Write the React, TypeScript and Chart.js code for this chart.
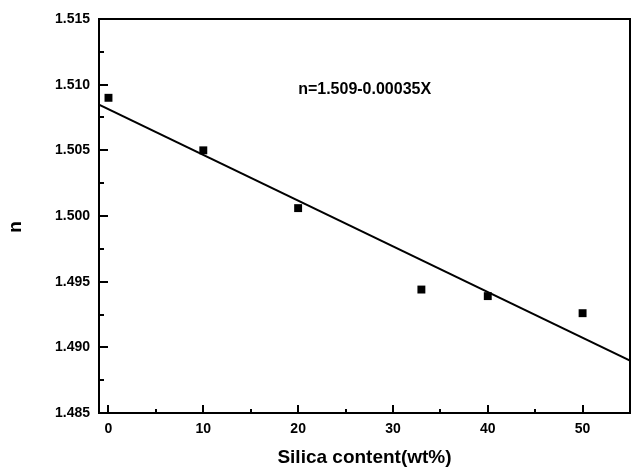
import { useEffect, useRef } from 'react';
import { Chart, registerables } from 'chart.js';

Chart.register(...registerables);

const FONT = '"Liberation Sans", Arial, Helvetica, sans-serif';

// Refractive index n measured against silica loading
const silica = [0, 10, 20, 33, 40, 50];
const refractiveIndex = [1.509, 1.505, 1.5006, 1.4944, 1.4939, 1.4926];

// Axis ranges and tick values
const xMin = -1;
const xMax = 55;
const yMin = 1.485;
const yMax = 1.515;
const xMajorTicks = [0, 10, 20, 30, 40, 50];
const xMinorTicks = [5, 15, 25, 35, 45];
const yMajorTicks = [1.485, 1.49, 1.495, 1.5, 1.505, 1.51, 1.515];
const yMinorTicks = [1.4875, 1.4925, 1.4975, 1.5025, 1.5075, 1.5125];

const xTitle = 'Silica content(wt%)';
const yTitle = 'n';
const fitLabel = 'n=1.509-0.00035X';
const fitLabelAt = { x: 20, y: 1.5096 };

// Ordinary least-squares line through the measured points
function leastSquares(xs: number[], ys: number[]) {
  const n = xs.length;
  const mx = xs.reduce((s, v) => s + v, 0) / n;
  const my = ys.reduce((s, v) => s + v, 0) / n;
  let sxy = 0;
  let sxx = 0;
  for (let i = 0; i < n; i++) {
    sxy += (xs[i] - mx) * (ys[i] - my);
    sxx += (xs[i] - mx) * (xs[i] - mx);
  }
  const slope = sxy / sxx;
  return { slope, intercept: my - slope * mx };
}

const framePlugin = {
  id: 'frameAndTicks',
  afterDraw(chart: any) {
    const { ctx, chartArea: a, scales } = chart;
    const x = scales.x;
    const y = scales.y;
    ctx.save();
    ctx.strokeStyle = '#000';
    ctx.lineWidth = 2;
    ctx.strokeRect(a.left, a.top, a.right - a.left, a.bottom - a.top);

    // inward tick marks on the left and bottom axes
    const tick = (x0: number, y0: number, x1: number, y1: number) => {
      ctx.beginPath();
      ctx.moveTo(x0, y0);
      ctx.lineTo(x1, y1);
      ctx.stroke();
    };
    yMajorTicks.forEach((v) => {
      const py = Math.round(y.getPixelForValue(v));
      tick(a.left, py, a.left + 9, py);
    });
    yMinorTicks.forEach((v) => {
      const py = Math.round(y.getPixelForValue(v));
      tick(a.left, py, a.left + 5, py);
    });
    xMajorTicks.forEach((v) => {
      const px = Math.round(x.getPixelForValue(v));
      tick(px, a.bottom, px, a.bottom - 8);
    });
    xMinorTicks.forEach((v) => {
      const px = Math.round(x.getPixelForValue(v));
      tick(px, a.bottom, px, a.bottom - 4);
    });

    // fit equation
    ctx.fillStyle = '#000';
    ctx.font = `bold 16px ${FONT}`;
    ctx.textAlign = 'left';
    ctx.textBaseline = 'middle';
    ctx.fillText(fitLabel, x.getPixelForValue(fitLabelAt.x), y.getPixelForValue(fitLabelAt.y));

    // y-axis title
    ctx.font = `bold 19px ${FONT}`;
    ctx.textAlign = 'center';
    ctx.translate(16, (a.top + a.bottom) / 2 + 11);
    ctx.rotate(-Math.PI / 2);
    ctx.fillText(yTitle, 0, 0);
    ctx.restore();
  },
};

export default function App() {
  const canvasRef = useRef<HTMLCanvasElement | null>(null);

  useEffect(() => {
    const canvas = canvasRef.current;
    if (!canvas) return;
    const { slope, intercept } = leastSquares(silica, refractiveIndex);
    const fitLine = [xMin, xMax].map((v) => ({ x: v, y: intercept + slope * v }));

    const chart = new Chart(canvas, {
      type: 'scatter',
      data: {
        datasets: [
          {
            label: 'n',
            data: silica.map((v, i) => ({ x: v, y: refractiveIndex[i] })),
            pointStyle: 'rect',
            pointRadius: 5.6,
            pointHoverRadius: 5.6,
            borderWidth: 0,
            backgroundColor: '#000',
            borderColor: '#000',
            showLine: false,
            order: 1,
          },
          {
            label: 'fit',
            data: fitLine,
            showLine: true,
            pointRadius: 0,
            borderColor: '#000',
            borderWidth: 2,
            order: 2,
          },
        ],
      },
      options: {
        responsive: false,
        animation: false,
        layout: { autoPadding: false, padding: { top: 19, right: 1, left: 0, bottom: 0 } },
        plugins: {
          legend: { display: false },
          tooltip: { enabled: false },
        },
        scales: {
          x: {
            type: 'linear',
            min: xMin,
            max: xMax,
            grid: { display: false, drawTicks: false },
            border: { display: false },
            afterBuildTicks: (scale: any) => {
              scale.ticks = xMajorTicks.map((v) => ({ value: v }));
            },
            afterFit: (scale: any) => {
              scale.height = 56;
              scale.paddingLeft = 0;
              scale.paddingRight = 0;
            },
            ticks: {
              color: '#000',
              padding: 8,
              maxRotation: 0,
              font: { family: FONT, size: 14, weight: 'bold' },
            },
            title: {
              display: true,
              text: xTitle,
              color: '#000',
              padding: 0,
              font: { family: FONT, size: 19, weight: 'bold' },
            },
          },
          y: {
            type: 'linear',
            min: yMin,
            max: yMax,
            grid: { display: false, drawTicks: false },
            border: { display: false },
            afterBuildTicks: (scale: any) => {
              scale.ticks = yMajorTicks.map((v) => ({ value: v }));
            },
            afterFit: (scale: any) => {
              scale.width = 99;
              scale.paddingTop = 0;
              scale.paddingBottom = 0;
            },
            ticks: {
              color: '#000',
              padding: 9,
              font: { family: FONT, size: 14, weight: 'bold' },
              callback: (v: any) => Number(v).toFixed(3),
            },
          },
        },
      },
      plugins: [framePlugin],
    });
    return () => chart.destroy();
  }, []);

  return (
    <div style={{ position: 'fixed', left: 0, top: 0, width: 631, height: 469, background: '#fff' }}>
      <canvas ref={canvasRef} width={631} height={469} style={{ display: 'block' }} />
    </div>
  );
}
